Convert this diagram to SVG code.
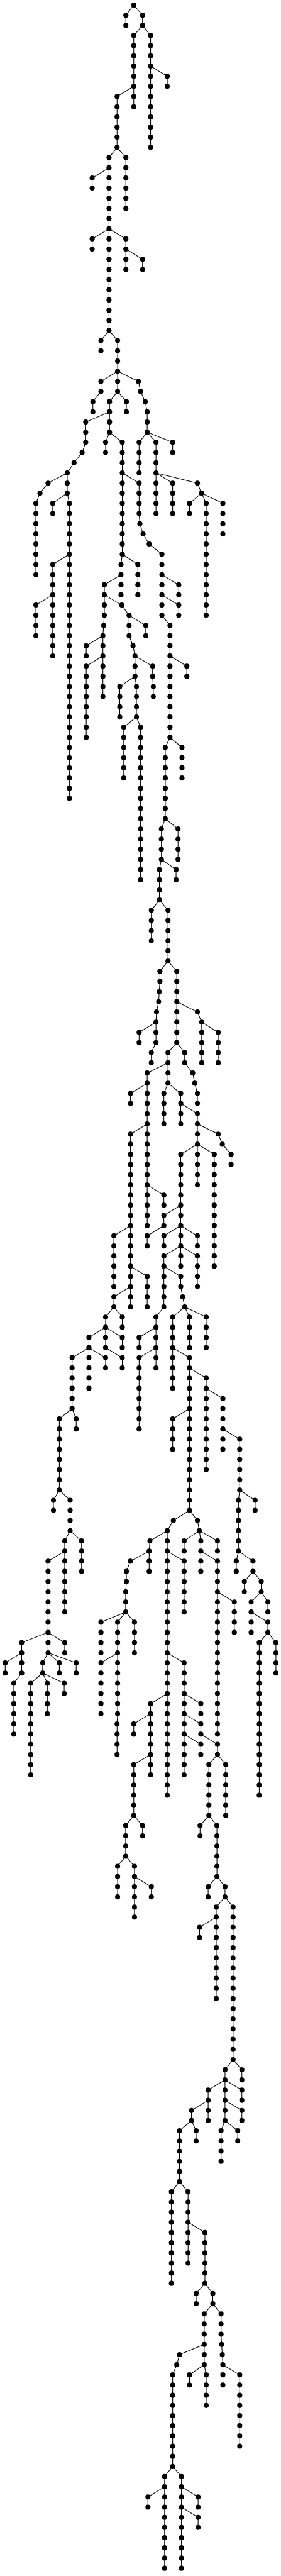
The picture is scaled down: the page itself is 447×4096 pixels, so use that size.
<svg xmlns="http://www.w3.org/2000/svg" width="447" height="4096" viewBox="0 0 447 4096">
<style>
#edges path{fill:none;stroke:#000;stroke-width:1.06px;vector-effect:non-scaling-stroke}
circle{r:15.3px;fill:#000;transform-box:fill-box;transform-origin:center;transform:scaleX(.9327)}
</style>
<rect width="447" height="4096" fill="#fff"/>
<g transform="scale(.2852,.266)">
<g id="edges">
<path d="M702 152V91L746 30L795 91V152"/>
<path d="M746 212L795 152L840 212V881"/>
<path d="M746 212V638"/>
<path d="M840 395L933 456V516"/>
<path d="M746 516L653 577V881"/>
<path d="M608 942L653 881L702 942V1246"/>
<path d="M608 942V1976"/>
<path d="M608 1003L514 1064V1124"/>
<path d="M514 1489V1428L608 1368L702 1428V1611"/>
<path d="M702 1489L795 1550V1611"/>
<path d="M563 2097V2036L608 1976L656 2036V2340"/>
<path d="M563 2280L656 2219L772 2280L784 2340L810 2401L821 2462V2584"/>
<path d="M563 2280V2340L518 2401V2462"/>
<path d="M611 2401L656 2340L705 2401V2462"/>
<path d="M611 2401V2584"/>
<path d="M611 2462L478 2523V2644L458 2705L413 2766L375 2827"/>
<path d="M589 2705V2644L611 2584L682 2644V3313"/>
<path d="M375 2827L268 2888L223 2948L200 3009V3435"/>
<path d="M375 2827V2948"/>
<path d="M294 3070V3009L375 2948L387 3009V4772"/>
<path d="M387 3313L294 3374V3921"/>
<path d="M294 3556L200 3617V3800"/>
<path d="M682 2827L776 2888V3070L780 3131L798 3192L832 3252L903 3313V3678L948 3739V4408"/>
<path d="M682 3313L675 3374V3556"/>
<path d="M682 3313L769 3374V3556"/>
<path d="M675 3435L582 3496V3678L578 3739L574 3800V4164"/>
<path d="M574 3800L481 3860V3921"/>
<path d="M574 3921L481 3982V4408"/>
<path d="M582 3556L679 3617L720 3678V3800L742 3860L753 3921V4043"/>
<path d="M720 3678L813 3739V3800"/>
<path d="M753 3921L851 3982V4043L855 4104V4164"/>
<path d="M753 4043L668 4104V4286"/>
<path d="M753 4043L761 4104V4286"/>
<path d="M761 4286L690 4347V4651"/>
<path d="M761 4286L784 4347V5259"/>
<path d="M903 3435L997 3496V3556"/>
<path d="M903 3556L997 3617V3678"/>
<path d="M948 3921L1042 3982V4043"/>
<path d="M948 4408L1015 4468V4651"/>
<path d="M948 4408L922 4468V4894"/>
<path d="M922 4894L993 4955V5137"/>
<path d="M922 4894L900 4955V5137"/>
<path d="M900 5137L982 5198V5259"/>
<path d="M900 5137L889 5198V5380"/>
<path d="M889 5380L844 5441V5624"/>
<path d="M889 5380L937 5441V5745"/>
<path d="M937 5745L892 5806V5867L888 5928L885 5988L873 6049L870 6110V6232L844 6292V6353"/>
<path d="M870 6110L776 6171V6232"/>
<path d="M937 5745L986 5806V6232"/>
<path d="M986 5988L1101 6049L1125 6110V6353"/>
<path d="M1125 6110L1217 6171V6353"/>
<path d="M986 6232L937 6292V6475"/>
<path d="M937 6353L821 6414V7326"/>
<path d="M821 6475L728 6536V6596"/>
<path d="M821 6718L728 6779V7812"/>
<path d="M821 7083L914 7144V7204"/>
<path d="M986 6232L1030 6292V6353L1075 6414L1086 6475L1101 6536V6596"/>
<path d="M937 6475L914 6536V6718"/>
<path d="M937 6475L1008 6536V6718"/>
<path d="M1008 6596L1101 6657V7083"/>
<path d="M1101 6718L1217 6779L1240 6840L1289 6900V6961"/>
<path d="M1101 6840L1195 6900V7569"/>
<path d="M1101 6840L1008 6900V7569"/>
<path d="M1008 7204L914 7265V7326L821 7387V7448"/>
<path d="M1008 7326L914 7387V7448"/>
<path d="M1008 7326L1101 7387V7448"/>
<path d="M1008 7448L914 7508V7812"/>
<path d="M1008 7448L1101 7508V7691"/>
<path d="M914 7569L1008 7630V7691L1019 7752L1030 7812"/>
<path d="M728 7326L635 7387V7691"/>
<path d="M728 7569L821 7630V7812"/>
<path d="M728 7691L635 7752V7812"/>
<path d="M682 7934V7873L635 7812L589 7873V8056L682 8116V8177"/>
<path d="M589 7934L496 7995V8299"/>
<path d="M589 7934L682 7995V8056"/>
<path d="M496 8056L402 8116V8420"/>
<path d="M496 8056L589 8116V8177"/>
<path d="M402 8420L331 8481V8907"/>
<path d="M402 8420L425 8481V8542"/>
<path d="M298 9028V8968L331 8907L391 8968V9150"/>
<path d="M391 9150L361 9211V9636"/>
<path d="M391 9150L455 9211V9393"/>
<path d="M361 9272L268 9332V9880"/>
<path d="M121 9880V9819L268 9758L361 9819V9880"/>
<path d="M268 9880L238 9940V10001"/>
<path d="M268 9880L331 9940V10001"/>
<path d="M268 9880L425 9940V10001"/>
<path d="M238 10001L171 10062V10609"/>
<path d="M238 10001L264 10062V10244"/>
<path d="M238 10001L358 10062V10123"/>
<path d="M121 9880L29 9940V10001"/>
<path d="M121 9880V10001L77 10062V10366"/>
<path d="M914 7812L870 7873V8177"/>
<path d="M870 7934L776 7995V8056"/>
<path d="M870 8056L776 8116V8542"/>
<path d="M1030 7812L963 7873V8299"/>
<path d="M1030 7812L1057 7873V8056"/>
<path d="M1030 7812L1150 7873V8056"/>
<path d="M963 8056L1057 8116V9028"/>
<path d="M1057 8177L1150 8238V8785"/>
<path d="M1150 8299L1243 8360V8664"/>
<path d="M1243 8542L1337 8603V8907"/>
<path d="M1057 8420L963 8481V8664"/>
<path d="M1337 8907L1330 8968V9272"/>
<path d="M1337 8907L1423 8968V9028"/>
<path d="M1330 9272L1318 9332V9393"/>
<path d="M1330 9272L1411 9332V9393"/>
<path d="M1411 9393L1363 9454V9515"/>
<path d="M1411 9393L1457 9454V9515"/>
<path d="M1457 9515L1401 9576V9758"/>
<path d="M1457 9515L1494 9576V9636"/>
<path d="M1401 9636L1494 9697V9758"/>
<path d="M1494 9758L1446 9819V10731"/>
<path d="M1494 9758L1539 9819V10001"/>
<path d="M1057 9028L967 9089L933 9150V10731"/>
<path d="M1057 9028L1101 9089L1112 9150"/>
<path d="M933 9150L836 9211L832 9272V9393"/>
<path d="M832 9272L727 9332L705 9393V9454L701 9515V9636"/>
<path d="M701 9636L563 9697V9880"/>
<path d="M701 9636L656 9697V10244L653 10305V10488"/>
<path d="M701 9636L750 9697V9880"/>
<path d="M656 9880L563 9940V10244"/>
<path d="M933 9272L1027 9332V9636"/>
<path d="M933 9880L1027 9940V10609"/>
<path d="M1027 10123L1120 10184V10244"/>
<path d="M1027 10244L1120 10305V10366L1213 10427V10488"/>
<path d="M1027 10366L1120 10427V10488"/>
<path d="M1112 9150L1027 9211V9272"/>
<path d="M1112 9150L1120 9211V9393"/>
<path d="M1112 9150L1213 9211V9272"/>
<path d="M1120 9272L1213 9332V10366"/>
<path d="M1213 9515L1307 9576V9758"/>
<path d="M933 10123L840 10184V10609"/>
<path d="M840 10244L746 10305V10366"/>
<path d="M840 10488L746 10548V10852"/>
<path d="M746 10852L701 10913V11096"/>
<path d="M746 10852L795 10913V10974"/>
<path d="M701 11096L656 11156V11339"/>
<path d="M701 11096L750 11156V11460"/>
<path d="M750 11217L844 11278V11339"/>
<path d="M1213 10488L1165 10548V10852"/>
<path d="M1213 10488L1259 10548V10852"/>
<path d="M1165 10852L1116 10913V10974"/>
<path d="M1165 10852L1210 10913V11217"/>
<path d="M1210 11217L1161 11278V11339"/>
<path d="M1210 11217L1255 11278V11339"/>
<path d="M1255 11339L1206 11400V11947"/>
<path d="M1255 11339L1300 11400V12312"/>
<path d="M1206 11460L1113 11521V11582"/>
<path d="M1300 12312L1255 12372V12676"/>
<path d="M1300 12312L1349 12372V12433"/>
<path d="M1255 12433L1161 12494V12676"/>
<path d="M1255 12433L1349 12494V12555"/>
<path d="M1255 12555L1349 12616V12676"/>
<path d="M1255 12676L1233 12737V12920"/>
<path d="M1255 12676L1326 12737V12798"/>
<path d="M1161 12555L1068 12616V12676"/>
<path d="M1068 12676L1001 12737V13041"/>
<path d="M1068 12676L1094 12737V12798"/>
<path d="M1001 13041L956 13102V13649"/>
<path d="M1001 13041L1049 13102V13528"/>
<path d="M1049 13284L1143 13345V13649"/>
<path d="M1143 13649L1094 13710V13771"/>
<path d="M1143 13649L1187 13710V13771"/>
<path d="M1187 13771L1139 13832V14136"/>
<path d="M1187 13771L1233 13832V13953L1236 14014L1240 14075L1243 14136"/>
<path d="M1139 14014L1001 14075L986 14136L963 14196V14744"/>
<path d="M1139 14136L1057 14196V14257"/>
<path d="M1139 14136L1150 14196V14379"/>
<path d="M1243 14136V14257"/>
<path d="M1243 14136L1337 14196V14622"/>
<path d="M963 14744L918 14804V15352"/>
<path d="M963 14744L1012 14804V15352"/>
<path d="M918 14865L825 14926V14987"/>
<path d="M1012 14865L1105 14926V14987"/>
<path d="M1012 14987L1105 15048V15108"/>
<path d="M821 2584L776 2644V2827"/>
<path d="M821 2584L963 2644V2705"/>
<path d="M821 2584L870 2644V3070"/>
<path d="M870 2827L963 2888V3070"/>
<path d="M870 2827L1101 2888L1124 2948"/>
<path d="M1124 2948L1057 3009V3070"/>
<path d="M1124 2948L1150 3009V3678"/>
<path d="M1124 2948L1243 3009V3192"/>
</g>
<g id="nodes">
<g id="n746-30"><circle cx="746" cy="30"/></g>
<g id="n702-91"><circle cx="702" cy="91"/></g><g id="n702-152"><circle cx="702" cy="152"/></g>
<g id="n795-91"><circle cx="795" cy="91"/></g><g id="n795-152"><circle cx="795" cy="152"/></g>
<g id="n746-212"><circle cx="746" cy="212"/></g><g id="n746-273"><circle cx="746" cy="273"/></g><g id="n746-334"><circle cx="746" cy="334"/></g><g id="n746-395"><circle cx="746" cy="395"/></g><g id="n746-456"><circle cx="746" cy="456"/></g><g id="n746-516"><circle cx="746" cy="516"/></g><g id="n746-577"><circle cx="746" cy="577"/></g><g id="n746-638"><circle cx="746" cy="638"/></g>
<g id="n840-212"><circle cx="840" cy="212"/></g><g id="n840-273"><circle cx="840" cy="273"/></g><g id="n840-334"><circle cx="840" cy="334"/></g><g id="n840-395"><circle cx="840" cy="395"/></g><g id="n840-456"><circle cx="840" cy="456"/></g><g id="n840-516"><circle cx="840" cy="516"/></g><g id="n840-577"><circle cx="840" cy="577"/></g><g id="n840-638"><circle cx="840" cy="638"/></g><g id="n840-699"><circle cx="840" cy="699"/></g><g id="n840-760"><circle cx="840" cy="760"/></g><g id="n840-820"><circle cx="840" cy="820"/></g><g id="n840-881"><circle cx="840" cy="881"/></g>
<g id="n933-456"><circle cx="933" cy="456"/></g><g id="n933-516"><circle cx="933" cy="516"/></g>
<g id="n653-577"><circle cx="653" cy="577"/></g><g id="n653-638"><circle cx="653" cy="638"/></g><g id="n653-699"><circle cx="653" cy="699"/></g><g id="n653-760"><circle cx="653" cy="760"/></g><g id="n653-820"><circle cx="653" cy="820"/></g><g id="n653-881"><circle cx="653" cy="881"/></g>
<g id="n608-942"><circle cx="608" cy="942"/></g><g id="n608-1003"><circle cx="608" cy="1003"/></g><g id="n608-1064"><circle cx="608" cy="1064"/></g><g id="n608-1124"><circle cx="608" cy="1124"/></g><g id="n608-1185"><circle cx="608" cy="1185"/></g><g id="n608-1246"><circle cx="608" cy="1246"/></g><g id="n608-1307"><circle cx="608" cy="1307"/></g><g id="n608-1368"><circle cx="608" cy="1368"/></g><g id="n608-1428"><circle cx="608" cy="1428"/></g><g id="n608-1489"><circle cx="608" cy="1489"/></g><g id="n608-1550"><circle cx="608" cy="1550"/></g><g id="n608-1611"><circle cx="608" cy="1611"/></g><g id="n608-1672"><circle cx="608" cy="1672"/></g><g id="n608-1732"><circle cx="608" cy="1732"/></g><g id="n608-1793"><circle cx="608" cy="1793"/></g><g id="n608-1854"><circle cx="608" cy="1854"/></g><g id="n608-1915"><circle cx="608" cy="1915"/></g><g id="n608-1976"><circle cx="608" cy="1976"/></g>
<g id="n702-942"><circle cx="702" cy="942"/></g><g id="n702-1003"><circle cx="702" cy="1003"/></g><g id="n702-1064"><circle cx="702" cy="1064"/></g><g id="n702-1124"><circle cx="702" cy="1124"/></g><g id="n702-1185"><circle cx="702" cy="1185"/></g><g id="n702-1246"><circle cx="702" cy="1246"/></g>
<g id="n514-1064"><circle cx="514" cy="1064"/></g><g id="n514-1124"><circle cx="514" cy="1124"/></g>
<g id="n514-1428"><circle cx="514" cy="1428"/></g><g id="n514-1489"><circle cx="514" cy="1489"/></g>
<g id="n702-1428"><circle cx="702" cy="1428"/></g><g id="n702-1489"><circle cx="702" cy="1489"/></g><g id="n702-1550"><circle cx="702" cy="1550"/></g><g id="n702-1611"><circle cx="702" cy="1611"/></g>
<g id="n795-1550"><circle cx="795" cy="1550"/></g><g id="n795-1611"><circle cx="795" cy="1611"/></g>
<g id="n563-2036"><circle cx="563" cy="2036"/></g><g id="n563-2097"><circle cx="563" cy="2097"/></g>
<g id="n656-2036"><circle cx="656" cy="2036"/></g><g id="n656-2097"><circle cx="656" cy="2097"/></g><g id="n656-2158"><circle cx="656" cy="2158"/></g><g id="n656-2219"><circle cx="656" cy="2219"/></g>
<g id="n563-2280"><circle cx="563" cy="2280"/></g><g id="n563-2340"><circle cx="563" cy="2340"/></g>
<g id="n518-2401"><circle cx="518" cy="2401"/></g><g id="n518-2462"><circle cx="518" cy="2462"/></g>
<g id="n656-2280"><circle cx="656" cy="2280"/></g><g id="n656-2340"><circle cx="656" cy="2340"/></g>
<g id="n611-2401"><circle cx="611" cy="2401"/></g><g id="n611-2462"><circle cx="611" cy="2462"/></g><g id="n611-2523"><circle cx="611" cy="2523"/></g><g id="n611-2584"><circle cx="611" cy="2584"/></g>
<g id="n705-2401"><circle cx="705" cy="2401"/></g><g id="n705-2462"><circle cx="705" cy="2462"/></g>
<g id="n772-2280"><circle cx="772" cy="2280"/></g><g id="n784-2340"><circle cx="784" cy="2340"/></g><g id="n810-2401"><circle cx="810" cy="2401"/></g><g id="n821-2462"><circle cx="821" cy="2462"/></g><g id="n821-2523"><circle cx="821" cy="2523"/></g><g id="n821-2584"><circle cx="821" cy="2584"/></g>
<g id="n478-2523"><circle cx="478" cy="2523"/></g><g id="n478-2584"><circle cx="478" cy="2584"/></g><g id="n478-2644"><circle cx="478" cy="2644"/></g><g id="n458-2705"><circle cx="458" cy="2705"/></g><g id="n413-2766"><circle cx="413" cy="2766"/></g><g id="n375-2827"><circle cx="375" cy="2827"/></g>
<g id="n589-2644"><circle cx="589" cy="2644"/></g><g id="n589-2705"><circle cx="589" cy="2705"/></g>
<g id="n682-2644"><circle cx="682" cy="2644"/></g><g id="n682-2705"><circle cx="682" cy="2705"/></g><g id="n682-2766"><circle cx="682" cy="2766"/></g><g id="n682-2827"><circle cx="682" cy="2827"/></g><g id="n682-2888"><circle cx="682" cy="2888"/></g><g id="n682-2948"><circle cx="682" cy="2948"/></g><g id="n682-3009"><circle cx="682" cy="3009"/></g><g id="n682-3070"><circle cx="682" cy="3070"/></g><g id="n682-3131"><circle cx="682" cy="3131"/></g><g id="n682-3192"><circle cx="682" cy="3192"/></g><g id="n682-3252"><circle cx="682" cy="3252"/></g><g id="n682-3313"><circle cx="682" cy="3313"/></g>
<g id="n268-2888"><circle cx="268" cy="2888"/></g><g id="n223-2948"><circle cx="223" cy="2948"/></g><g id="n200-3009"><circle cx="200" cy="3009"/></g><g id="n200-3070"><circle cx="200" cy="3070"/></g><g id="n200-3131"><circle cx="200" cy="3131"/></g><g id="n200-3192"><circle cx="200" cy="3192"/></g><g id="n200-3252"><circle cx="200" cy="3252"/></g><g id="n200-3313"><circle cx="200" cy="3313"/></g><g id="n200-3374"><circle cx="200" cy="3374"/></g><g id="n200-3435"><circle cx="200" cy="3435"/></g>
<g id="n375-2888"><circle cx="375" cy="2888"/></g><g id="n375-2948"><circle cx="375" cy="2948"/></g>
<g id="n294-3009"><circle cx="294" cy="3009"/></g><g id="n294-3070"><circle cx="294" cy="3070"/></g>
<g id="n387-3009"><circle cx="387" cy="3009"/></g><g id="n387-3070"><circle cx="387" cy="3070"/></g><g id="n387-3131"><circle cx="387" cy="3131"/></g><g id="n387-3192"><circle cx="387" cy="3192"/></g><g id="n387-3252"><circle cx="387" cy="3252"/></g><g id="n387-3313"><circle cx="387" cy="3313"/></g><g id="n387-3374"><circle cx="387" cy="3374"/></g><g id="n387-3435"><circle cx="387" cy="3435"/></g><g id="n387-3496"><circle cx="387" cy="3496"/></g><g id="n387-3556"><circle cx="387" cy="3556"/></g><g id="n387-3617"><circle cx="387" cy="3617"/></g><g id="n387-3678"><circle cx="387" cy="3678"/></g><g id="n387-3739"><circle cx="387" cy="3739"/></g><g id="n387-3800"><circle cx="387" cy="3800"/></g><g id="n387-3860"><circle cx="387" cy="3860"/></g><g id="n387-3921"><circle cx="387" cy="3921"/></g><g id="n387-3982"><circle cx="387" cy="3982"/></g><g id="n387-4043"><circle cx="387" cy="4043"/></g><g id="n387-4104"><circle cx="387" cy="4104"/></g><g id="n387-4164"><circle cx="387" cy="4164"/></g><g id="n387-4225"><circle cx="387" cy="4225"/></g><g id="n387-4286"><circle cx="387" cy="4286"/></g><g id="n387-4347"><circle cx="387" cy="4347"/></g><g id="n387-4408"><circle cx="387" cy="4408"/></g><g id="n387-4468"><circle cx="387" cy="4468"/></g><g id="n387-4529"><circle cx="387" cy="4529"/></g><g id="n387-4590"><circle cx="387" cy="4590"/></g><g id="n387-4651"><circle cx="387" cy="4651"/></g><g id="n387-4712"><circle cx="387" cy="4712"/></g><g id="n387-4772"><circle cx="387" cy="4772"/></g>
<g id="n294-3374"><circle cx="294" cy="3374"/></g><g id="n294-3435"><circle cx="294" cy="3435"/></g><g id="n294-3496"><circle cx="294" cy="3496"/></g><g id="n294-3556"><circle cx="294" cy="3556"/></g><g id="n294-3617"><circle cx="294" cy="3617"/></g><g id="n294-3678"><circle cx="294" cy="3678"/></g><g id="n294-3739"><circle cx="294" cy="3739"/></g><g id="n294-3800"><circle cx="294" cy="3800"/></g><g id="n294-3860"><circle cx="294" cy="3860"/></g><g id="n294-3921"><circle cx="294" cy="3921"/></g>
<g id="n200-3617"><circle cx="200" cy="3617"/></g><g id="n200-3678"><circle cx="200" cy="3678"/></g><g id="n200-3739"><circle cx="200" cy="3739"/></g><g id="n200-3800"><circle cx="200" cy="3800"/></g>
<g id="n776-2888"><circle cx="776" cy="2888"/></g><g id="n776-2948"><circle cx="776" cy="2948"/></g><g id="n776-3009"><circle cx="776" cy="3009"/></g><g id="n776-3070"><circle cx="776" cy="3070"/></g><g id="n780-3131"><circle cx="780" cy="3131"/></g><g id="n798-3192"><circle cx="798" cy="3192"/></g><g id="n832-3252"><circle cx="832" cy="3252"/></g><g id="n903-3313"><circle cx="903" cy="3313"/></g><g id="n903-3374"><circle cx="903" cy="3374"/></g><g id="n903-3435"><circle cx="903" cy="3435"/></g><g id="n903-3496"><circle cx="903" cy="3496"/></g><g id="n903-3556"><circle cx="903" cy="3556"/></g><g id="n903-3617"><circle cx="903" cy="3617"/></g><g id="n903-3678"><circle cx="903" cy="3678"/></g>
<g id="n948-3739"><circle cx="948" cy="3739"/></g><g id="n948-3800"><circle cx="948" cy="3800"/></g><g id="n948-3860"><circle cx="948" cy="3860"/></g><g id="n948-3921"><circle cx="948" cy="3921"/></g><g id="n948-3982"><circle cx="948" cy="3982"/></g><g id="n948-4043"><circle cx="948" cy="4043"/></g><g id="n948-4104"><circle cx="948" cy="4104"/></g><g id="n948-4164"><circle cx="948" cy="4164"/></g><g id="n948-4225"><circle cx="948" cy="4225"/></g><g id="n948-4286"><circle cx="948" cy="4286"/></g><g id="n948-4347"><circle cx="948" cy="4347"/></g><g id="n948-4408"><circle cx="948" cy="4408"/></g>
<g id="n675-3374"><circle cx="675" cy="3374"/></g><g id="n675-3435"><circle cx="675" cy="3435"/></g><g id="n675-3496"><circle cx="675" cy="3496"/></g><g id="n675-3556"><circle cx="675" cy="3556"/></g>
<g id="n769-3374"><circle cx="769" cy="3374"/></g><g id="n769-3435"><circle cx="769" cy="3435"/></g><g id="n769-3496"><circle cx="769" cy="3496"/></g><g id="n769-3556"><circle cx="769" cy="3556"/></g>
<g id="n582-3496"><circle cx="582" cy="3496"/></g><g id="n582-3556"><circle cx="582" cy="3556"/></g><g id="n582-3617"><circle cx="582" cy="3617"/></g><g id="n582-3678"><circle cx="582" cy="3678"/></g><g id="n578-3739"><circle cx="578" cy="3739"/></g><g id="n574-3800"><circle cx="574" cy="3800"/></g><g id="n574-3860"><circle cx="574" cy="3860"/></g><g id="n574-3921"><circle cx="574" cy="3921"/></g><g id="n574-3982"><circle cx="574" cy="3982"/></g><g id="n574-4043"><circle cx="574" cy="4043"/></g><g id="n574-4104"><circle cx="574" cy="4104"/></g><g id="n574-4164"><circle cx="574" cy="4164"/></g>
<g id="n481-3860"><circle cx="481" cy="3860"/></g><g id="n481-3921"><circle cx="481" cy="3921"/></g>
<g id="n481-3982"><circle cx="481" cy="3982"/></g><g id="n481-4043"><circle cx="481" cy="4043"/></g><g id="n481-4104"><circle cx="481" cy="4104"/></g><g id="n481-4164"><circle cx="481" cy="4164"/></g><g id="n481-4225"><circle cx="481" cy="4225"/></g><g id="n481-4286"><circle cx="481" cy="4286"/></g><g id="n481-4347"><circle cx="481" cy="4347"/></g><g id="n481-4408"><circle cx="481" cy="4408"/></g>
<g id="n679-3617"><circle cx="679" cy="3617"/></g><g id="n720-3678"><circle cx="720" cy="3678"/></g><g id="n720-3739"><circle cx="720" cy="3739"/></g><g id="n720-3800"><circle cx="720" cy="3800"/></g><g id="n742-3860"><circle cx="742" cy="3860"/></g><g id="n753-3921"><circle cx="753" cy="3921"/></g><g id="n753-3982"><circle cx="753" cy="3982"/></g><g id="n753-4043"><circle cx="753" cy="4043"/></g>
<g id="n813-3739"><circle cx="813" cy="3739"/></g><g id="n813-3800"><circle cx="813" cy="3800"/></g>
<g id="n851-3982"><circle cx="851" cy="3982"/></g><g id="n851-4043"><circle cx="851" cy="4043"/></g><g id="n855-4104"><circle cx="855" cy="4104"/></g><g id="n855-4164"><circle cx="855" cy="4164"/></g>
<g id="n668-4104"><circle cx="668" cy="4104"/></g><g id="n668-4164"><circle cx="668" cy="4164"/></g><g id="n668-4225"><circle cx="668" cy="4225"/></g><g id="n668-4286"><circle cx="668" cy="4286"/></g>
<g id="n761-4104"><circle cx="761" cy="4104"/></g><g id="n761-4164"><circle cx="761" cy="4164"/></g><g id="n761-4225"><circle cx="761" cy="4225"/></g><g id="n761-4286"><circle cx="761" cy="4286"/></g>
<g id="n690-4347"><circle cx="690" cy="4347"/></g><g id="n690-4408"><circle cx="690" cy="4408"/></g><g id="n690-4468"><circle cx="690" cy="4468"/></g><g id="n690-4529"><circle cx="690" cy="4529"/></g><g id="n690-4590"><circle cx="690" cy="4590"/></g><g id="n690-4651"><circle cx="690" cy="4651"/></g>
<g id="n784-4347"><circle cx="784" cy="4347"/></g><g id="n784-4408"><circle cx="784" cy="4408"/></g><g id="n784-4468"><circle cx="784" cy="4468"/></g><g id="n784-4529"><circle cx="784" cy="4529"/></g><g id="n784-4590"><circle cx="784" cy="4590"/></g><g id="n784-4651"><circle cx="784" cy="4651"/></g><g id="n784-4712"><circle cx="784" cy="4712"/></g><g id="n784-4772"><circle cx="784" cy="4772"/></g><g id="n784-4833"><circle cx="784" cy="4833"/></g><g id="n784-4894"><circle cx="784" cy="4894"/></g><g id="n784-4955"><circle cx="784" cy="4955"/></g><g id="n784-5016"><circle cx="784" cy="5016"/></g><g id="n784-5076"><circle cx="784" cy="5076"/></g><g id="n784-5137"><circle cx="784" cy="5137"/></g><g id="n784-5198"><circle cx="784" cy="5198"/></g><g id="n784-5259"><circle cx="784" cy="5259"/></g>
<g id="n997-3496"><circle cx="997" cy="3496"/></g><g id="n997-3556"><circle cx="997" cy="3556"/></g><g id="n997-3617"><circle cx="997" cy="3617"/></g><g id="n997-3678"><circle cx="997" cy="3678"/></g>
<g id="n1042-3982"><circle cx="1042" cy="3982"/></g><g id="n1042-4043"><circle cx="1042" cy="4043"/></g>
<g id="n1015-4468"><circle cx="1015" cy="4468"/></g><g id="n1015-4529"><circle cx="1015" cy="4529"/></g><g id="n1015-4590"><circle cx="1015" cy="4590"/></g><g id="n1015-4651"><circle cx="1015" cy="4651"/></g>
<g id="n922-4468"><circle cx="922" cy="4468"/></g><g id="n922-4529"><circle cx="922" cy="4529"/></g><g id="n922-4590"><circle cx="922" cy="4590"/></g><g id="n922-4651"><circle cx="922" cy="4651"/></g><g id="n922-4712"><circle cx="922" cy="4712"/></g><g id="n922-4772"><circle cx="922" cy="4772"/></g><g id="n922-4833"><circle cx="922" cy="4833"/></g><g id="n922-4894"><circle cx="922" cy="4894"/></g>
<g id="n993-4955"><circle cx="993" cy="4955"/></g><g id="n993-5016"><circle cx="993" cy="5016"/></g><g id="n993-5076"><circle cx="993" cy="5076"/></g><g id="n993-5137"><circle cx="993" cy="5137"/></g>
<g id="n900-4955"><circle cx="900" cy="4955"/></g><g id="n900-5016"><circle cx="900" cy="5016"/></g><g id="n900-5076"><circle cx="900" cy="5076"/></g><g id="n900-5137"><circle cx="900" cy="5137"/></g>
<g id="n982-5198"><circle cx="982" cy="5198"/></g><g id="n982-5259"><circle cx="982" cy="5259"/></g>
<g id="n889-5198"><circle cx="889" cy="5198"/></g><g id="n889-5259"><circle cx="889" cy="5259"/></g><g id="n889-5320"><circle cx="889" cy="5320"/></g><g id="n889-5380"><circle cx="889" cy="5380"/></g>
<g id="n844-5441"><circle cx="844" cy="5441"/></g><g id="n844-5502"><circle cx="844" cy="5502"/></g><g id="n844-5563"><circle cx="844" cy="5563"/></g><g id="n844-5624"><circle cx="844" cy="5624"/></g>
<g id="n937-5441"><circle cx="937" cy="5441"/></g><g id="n937-5502"><circle cx="937" cy="5502"/></g><g id="n937-5563"><circle cx="937" cy="5563"/></g><g id="n937-5624"><circle cx="937" cy="5624"/></g><g id="n937-5684"><circle cx="937" cy="5684"/></g><g id="n937-5745"><circle cx="937" cy="5745"/></g>
<g id="n892-5806"><circle cx="892" cy="5806"/></g><g id="n892-5867"><circle cx="892" cy="5867"/></g><g id="n888-5928"><circle cx="888" cy="5928"/></g><g id="n885-5988"><circle cx="885" cy="5988"/></g><g id="n873-6049"><circle cx="873" cy="6049"/></g><g id="n870-6110"><circle cx="870" cy="6110"/></g><g id="n870-6171"><circle cx="870" cy="6171"/></g><g id="n870-6232"><circle cx="870" cy="6232"/></g><g id="n844-6292"><circle cx="844" cy="6292"/></g><g id="n844-6353"><circle cx="844" cy="6353"/></g>
<g id="n776-6171"><circle cx="776" cy="6171"/></g><g id="n776-6232"><circle cx="776" cy="6232"/></g>
<g id="n986-5806"><circle cx="986" cy="5806"/></g><g id="n986-5867"><circle cx="986" cy="5867"/></g><g id="n986-5928"><circle cx="986" cy="5928"/></g><g id="n986-5988"><circle cx="986" cy="5988"/></g><g id="n986-6049"><circle cx="986" cy="6049"/></g><g id="n986-6110"><circle cx="986" cy="6110"/></g><g id="n986-6171"><circle cx="986" cy="6171"/></g><g id="n986-6232"><circle cx="986" cy="6232"/></g>
<g id="n1101-6049"><circle cx="1101" cy="6049"/></g><g id="n1125-6110"><circle cx="1125" cy="6110"/></g><g id="n1125-6171"><circle cx="1125" cy="6171"/></g><g id="n1125-6232"><circle cx="1125" cy="6232"/></g><g id="n1125-6292"><circle cx="1125" cy="6292"/></g><g id="n1125-6353"><circle cx="1125" cy="6353"/></g>
<g id="n1217-6171"><circle cx="1217" cy="6171"/></g><g id="n1217-6232"><circle cx="1217" cy="6232"/></g><g id="n1217-6292"><circle cx="1217" cy="6292"/></g><g id="n1217-6353"><circle cx="1217" cy="6353"/></g>
<g id="n937-6292"><circle cx="937" cy="6292"/></g><g id="n937-6353"><circle cx="937" cy="6353"/></g><g id="n937-6414"><circle cx="937" cy="6414"/></g><g id="n937-6475"><circle cx="937" cy="6475"/></g>
<g id="n821-6414"><circle cx="821" cy="6414"/></g><g id="n821-6475"><circle cx="821" cy="6475"/></g><g id="n821-6536"><circle cx="821" cy="6536"/></g><g id="n821-6596"><circle cx="821" cy="6596"/></g><g id="n821-6657"><circle cx="821" cy="6657"/></g><g id="n821-6718"><circle cx="821" cy="6718"/></g><g id="n821-6779"><circle cx="821" cy="6779"/></g><g id="n821-6840"><circle cx="821" cy="6840"/></g><g id="n821-6900"><circle cx="821" cy="6900"/></g><g id="n821-6961"><circle cx="821" cy="6961"/></g><g id="n821-7022"><circle cx="821" cy="7022"/></g><g id="n821-7083"><circle cx="821" cy="7083"/></g><g id="n821-7144"><circle cx="821" cy="7144"/></g><g id="n821-7204"><circle cx="821" cy="7204"/></g><g id="n821-7265"><circle cx="821" cy="7265"/></g><g id="n821-7326"><circle cx="821" cy="7326"/></g>
<g id="n728-6536"><circle cx="728" cy="6536"/></g><g id="n728-6596"><circle cx="728" cy="6596"/></g>
<g id="n728-6779"><circle cx="728" cy="6779"/></g><g id="n728-6840"><circle cx="728" cy="6840"/></g><g id="n728-6900"><circle cx="728" cy="6900"/></g><g id="n728-6961"><circle cx="728" cy="6961"/></g><g id="n728-7022"><circle cx="728" cy="7022"/></g><g id="n728-7083"><circle cx="728" cy="7083"/></g><g id="n728-7144"><circle cx="728" cy="7144"/></g><g id="n728-7204"><circle cx="728" cy="7204"/></g><g id="n728-7265"><circle cx="728" cy="7265"/></g><g id="n728-7326"><circle cx="728" cy="7326"/></g><g id="n728-7387"><circle cx="728" cy="7387"/></g><g id="n728-7448"><circle cx="728" cy="7448"/></g><g id="n728-7508"><circle cx="728" cy="7508"/></g><g id="n728-7569"><circle cx="728" cy="7569"/></g><g id="n728-7630"><circle cx="728" cy="7630"/></g><g id="n728-7691"><circle cx="728" cy="7691"/></g><g id="n728-7752"><circle cx="728" cy="7752"/></g><g id="n728-7812"><circle cx="728" cy="7812"/></g>
<g id="n914-7144"><circle cx="914" cy="7144"/></g><g id="n914-7204"><circle cx="914" cy="7204"/></g>
<g id="n1030-6292"><circle cx="1030" cy="6292"/></g><g id="n1030-6353"><circle cx="1030" cy="6353"/></g><g id="n1075-6414"><circle cx="1075" cy="6414"/></g><g id="n1086-6475"><circle cx="1086" cy="6475"/></g><g id="n1101-6536"><circle cx="1101" cy="6536"/></g><g id="n1101-6596"><circle cx="1101" cy="6596"/></g>
<g id="n914-6536"><circle cx="914" cy="6536"/></g><g id="n914-6596"><circle cx="914" cy="6596"/></g><g id="n914-6657"><circle cx="914" cy="6657"/></g><g id="n914-6718"><circle cx="914" cy="6718"/></g>
<g id="n1008-6536"><circle cx="1008" cy="6536"/></g><g id="n1008-6596"><circle cx="1008" cy="6596"/></g><g id="n1008-6657"><circle cx="1008" cy="6657"/></g><g id="n1008-6718"><circle cx="1008" cy="6718"/></g>
<g id="n1101-6657"><circle cx="1101" cy="6657"/></g><g id="n1101-6718"><circle cx="1101" cy="6718"/></g><g id="n1101-6779"><circle cx="1101" cy="6779"/></g><g id="n1101-6840"><circle cx="1101" cy="6840"/></g><g id="n1101-6900"><circle cx="1101" cy="6900"/></g><g id="n1101-6961"><circle cx="1101" cy="6961"/></g><g id="n1101-7022"><circle cx="1101" cy="7022"/></g><g id="n1101-7083"><circle cx="1101" cy="7083"/></g>
<g id="n1217-6779"><circle cx="1217" cy="6779"/></g><g id="n1240-6840"><circle cx="1240" cy="6840"/></g><g id="n1289-6900"><circle cx="1289" cy="6900"/></g><g id="n1289-6961"><circle cx="1289" cy="6961"/></g>
<g id="n1195-6900"><circle cx="1195" cy="6900"/></g><g id="n1195-6961"><circle cx="1195" cy="6961"/></g><g id="n1195-7022"><circle cx="1195" cy="7022"/></g><g id="n1195-7083"><circle cx="1195" cy="7083"/></g><g id="n1195-7144"><circle cx="1195" cy="7144"/></g><g id="n1195-7204"><circle cx="1195" cy="7204"/></g><g id="n1195-7265"><circle cx="1195" cy="7265"/></g><g id="n1195-7326"><circle cx="1195" cy="7326"/></g><g id="n1195-7387"><circle cx="1195" cy="7387"/></g><g id="n1195-7448"><circle cx="1195" cy="7448"/></g><g id="n1195-7508"><circle cx="1195" cy="7508"/></g><g id="n1195-7569"><circle cx="1195" cy="7569"/></g>
<g id="n1008-6900"><circle cx="1008" cy="6900"/></g><g id="n1008-6961"><circle cx="1008" cy="6961"/></g><g id="n1008-7022"><circle cx="1008" cy="7022"/></g><g id="n1008-7083"><circle cx="1008" cy="7083"/></g><g id="n1008-7144"><circle cx="1008" cy="7144"/></g><g id="n1008-7204"><circle cx="1008" cy="7204"/></g><g id="n1008-7265"><circle cx="1008" cy="7265"/></g><g id="n1008-7326"><circle cx="1008" cy="7326"/></g><g id="n1008-7387"><circle cx="1008" cy="7387"/></g><g id="n1008-7448"><circle cx="1008" cy="7448"/></g><g id="n1008-7508"><circle cx="1008" cy="7508"/></g><g id="n1008-7569"><circle cx="1008" cy="7569"/></g>
<g id="n914-7265"><circle cx="914" cy="7265"/></g><g id="n914-7326"><circle cx="914" cy="7326"/></g><g id="n821-7387"><circle cx="821" cy="7387"/></g><g id="n821-7448"><circle cx="821" cy="7448"/></g>
<g id="n914-7387"><circle cx="914" cy="7387"/></g><g id="n914-7448"><circle cx="914" cy="7448"/></g>
<g id="n1101-7387"><circle cx="1101" cy="7387"/></g><g id="n1101-7448"><circle cx="1101" cy="7448"/></g>
<g id="n914-7508"><circle cx="914" cy="7508"/></g><g id="n914-7569"><circle cx="914" cy="7569"/></g><g id="n914-7630"><circle cx="914" cy="7630"/></g><g id="n914-7691"><circle cx="914" cy="7691"/></g><g id="n914-7752"><circle cx="914" cy="7752"/></g><g id="n914-7812"><circle cx="914" cy="7812"/></g>
<g id="n1101-7508"><circle cx="1101" cy="7508"/></g><g id="n1101-7569"><circle cx="1101" cy="7569"/></g><g id="n1101-7630"><circle cx="1101" cy="7630"/></g><g id="n1101-7691"><circle cx="1101" cy="7691"/></g>
<g id="n1008-7630"><circle cx="1008" cy="7630"/></g><g id="n1008-7691"><circle cx="1008" cy="7691"/></g><g id="n1019-7752"><circle cx="1019" cy="7752"/></g><g id="n1030-7812"><circle cx="1030" cy="7812"/></g>
<g id="n635-7387"><circle cx="635" cy="7387"/></g><g id="n635-7448"><circle cx="635" cy="7448"/></g><g id="n635-7508"><circle cx="635" cy="7508"/></g><g id="n635-7569"><circle cx="635" cy="7569"/></g><g id="n635-7630"><circle cx="635" cy="7630"/></g><g id="n635-7691"><circle cx="635" cy="7691"/></g>
<g id="n821-7630"><circle cx="821" cy="7630"/></g><g id="n821-7691"><circle cx="821" cy="7691"/></g><g id="n821-7752"><circle cx="821" cy="7752"/></g><g id="n821-7812"><circle cx="821" cy="7812"/></g>
<g id="n635-7752"><circle cx="635" cy="7752"/></g><g id="n635-7812"><circle cx="635" cy="7812"/></g>
<g id="n589-7873"><circle cx="589" cy="7873"/></g><g id="n589-7934"><circle cx="589" cy="7934"/></g><g id="n589-7995"><circle cx="589" cy="7995"/></g><g id="n589-8056"><circle cx="589" cy="8056"/></g>
<g id="n682-7873"><circle cx="682" cy="7873"/></g><g id="n682-7934"><circle cx="682" cy="7934"/></g>
<g id="n682-8116"><circle cx="682" cy="8116"/></g><g id="n682-8177"><circle cx="682" cy="8177"/></g>
<g id="n496-7995"><circle cx="496" cy="7995"/></g><g id="n496-8056"><circle cx="496" cy="8056"/></g><g id="n496-8116"><circle cx="496" cy="8116"/></g><g id="n496-8177"><circle cx="496" cy="8177"/></g><g id="n496-8238"><circle cx="496" cy="8238"/></g><g id="n496-8299"><circle cx="496" cy="8299"/></g>
<g id="n682-7995"><circle cx="682" cy="7995"/></g><g id="n682-8056"><circle cx="682" cy="8056"/></g>
<g id="n402-8116"><circle cx="402" cy="8116"/></g><g id="n402-8177"><circle cx="402" cy="8177"/></g><g id="n402-8238"><circle cx="402" cy="8238"/></g><g id="n402-8299"><circle cx="402" cy="8299"/></g><g id="n402-8360"><circle cx="402" cy="8360"/></g><g id="n402-8420"><circle cx="402" cy="8420"/></g>
<g id="n589-8116"><circle cx="589" cy="8116"/></g><g id="n589-8177"><circle cx="589" cy="8177"/></g>
<g id="n331-8481"><circle cx="331" cy="8481"/></g><g id="n331-8542"><circle cx="331" cy="8542"/></g><g id="n331-8603"><circle cx="331" cy="8603"/></g><g id="n331-8664"><circle cx="331" cy="8664"/></g><g id="n331-8724"><circle cx="331" cy="8724"/></g><g id="n331-8785"><circle cx="331" cy="8785"/></g><g id="n331-8846"><circle cx="331" cy="8846"/></g><g id="n331-8907"><circle cx="331" cy="8907"/></g>
<g id="n425-8481"><circle cx="425" cy="8481"/></g><g id="n425-8542"><circle cx="425" cy="8542"/></g>
<g id="n298-8968"><circle cx="298" cy="8968"/></g><g id="n298-9028"><circle cx="298" cy="9028"/></g>
<g id="n391-8968"><circle cx="391" cy="8968"/></g><g id="n391-9028"><circle cx="391" cy="9028"/></g><g id="n391-9089"><circle cx="391" cy="9089"/></g><g id="n391-9150"><circle cx="391" cy="9150"/></g>
<g id="n361-9211"><circle cx="361" cy="9211"/></g><g id="n361-9272"><circle cx="361" cy="9272"/></g><g id="n361-9332"><circle cx="361" cy="9332"/></g><g id="n361-9393"><circle cx="361" cy="9393"/></g><g id="n361-9454"><circle cx="361" cy="9454"/></g><g id="n361-9515"><circle cx="361" cy="9515"/></g><g id="n361-9576"><circle cx="361" cy="9576"/></g><g id="n361-9636"><circle cx="361" cy="9636"/></g>
<g id="n455-9211"><circle cx="455" cy="9211"/></g><g id="n455-9272"><circle cx="455" cy="9272"/></g><g id="n455-9332"><circle cx="455" cy="9332"/></g><g id="n455-9393"><circle cx="455" cy="9393"/></g>
<g id="n268-9332"><circle cx="268" cy="9332"/></g><g id="n268-9393"><circle cx="268" cy="9393"/></g><g id="n268-9454"><circle cx="268" cy="9454"/></g><g id="n268-9515"><circle cx="268" cy="9515"/></g><g id="n268-9576"><circle cx="268" cy="9576"/></g><g id="n268-9636"><circle cx="268" cy="9636"/></g><g id="n268-9697"><circle cx="268" cy="9697"/></g><g id="n268-9758"><circle cx="268" cy="9758"/></g>
<g id="n121-9819"><circle cx="121" cy="9819"/></g><g id="n121-9880"><circle cx="121" cy="9880"/></g><g id="n268-9819"><circle cx="268" cy="9819"/></g><g id="n268-9880"><circle cx="268" cy="9880"/></g><g id="n361-9819"><circle cx="361" cy="9819"/></g><g id="n361-9880"><circle cx="361" cy="9880"/></g>
<g id="n238-9940"><circle cx="238" cy="9940"/></g><g id="n238-10001"><circle cx="238" cy="10001"/></g><g id="n331-9940"><circle cx="331" cy="9940"/></g><g id="n331-10001"><circle cx="331" cy="10001"/></g><g id="n425-9940"><circle cx="425" cy="9940"/></g><g id="n425-10001"><circle cx="425" cy="10001"/></g>
<g id="n171-10062"><circle cx="171" cy="10062"/></g><g id="n171-10123"><circle cx="171" cy="10123"/></g><g id="n171-10184"><circle cx="171" cy="10184"/></g><g id="n171-10244"><circle cx="171" cy="10244"/></g><g id="n171-10305"><circle cx="171" cy="10305"/></g><g id="n171-10366"><circle cx="171" cy="10366"/></g><g id="n171-10427"><circle cx="171" cy="10427"/></g><g id="n171-10488"><circle cx="171" cy="10488"/></g><g id="n171-10548"><circle cx="171" cy="10548"/></g><g id="n171-10609"><circle cx="171" cy="10609"/></g>
<g id="n264-10062"><circle cx="264" cy="10062"/></g><g id="n264-10123"><circle cx="264" cy="10123"/></g><g id="n264-10184"><circle cx="264" cy="10184"/></g><g id="n264-10244"><circle cx="264" cy="10244"/></g>
<g id="n358-10062"><circle cx="358" cy="10062"/></g><g id="n358-10123"><circle cx="358" cy="10123"/></g>
<g id="n29-9940"><circle cx="29" cy="9940"/></g><g id="n29-10001"><circle cx="29" cy="10001"/></g>
<g id="n121-9940"><circle cx="121" cy="9940"/></g><g id="n121-10001"><circle cx="121" cy="10001"/></g><g id="n77-10062"><circle cx="77" cy="10062"/></g><g id="n77-10123"><circle cx="77" cy="10123"/></g><g id="n77-10184"><circle cx="77" cy="10184"/></g><g id="n77-10244"><circle cx="77" cy="10244"/></g><g id="n77-10305"><circle cx="77" cy="10305"/></g><g id="n77-10366"><circle cx="77" cy="10366"/></g>
<g id="n870-7873"><circle cx="870" cy="7873"/></g><g id="n870-7934"><circle cx="870" cy="7934"/></g><g id="n870-7995"><circle cx="870" cy="7995"/></g><g id="n870-8056"><circle cx="870" cy="8056"/></g><g id="n870-8116"><circle cx="870" cy="8116"/></g><g id="n870-8177"><circle cx="870" cy="8177"/></g>
<g id="n776-7995"><circle cx="776" cy="7995"/></g><g id="n776-8056"><circle cx="776" cy="8056"/></g>
<g id="n776-8116"><circle cx="776" cy="8116"/></g><g id="n776-8177"><circle cx="776" cy="8177"/></g><g id="n776-8238"><circle cx="776" cy="8238"/></g><g id="n776-8299"><circle cx="776" cy="8299"/></g><g id="n776-8360"><circle cx="776" cy="8360"/></g><g id="n776-8420"><circle cx="776" cy="8420"/></g><g id="n776-8481"><circle cx="776" cy="8481"/></g><g id="n776-8542"><circle cx="776" cy="8542"/></g>
<g id="n963-7873"><circle cx="963" cy="7873"/></g><g id="n963-7934"><circle cx="963" cy="7934"/></g><g id="n963-7995"><circle cx="963" cy="7995"/></g><g id="n963-8056"><circle cx="963" cy="8056"/></g><g id="n963-8116"><circle cx="963" cy="8116"/></g><g id="n963-8177"><circle cx="963" cy="8177"/></g><g id="n963-8238"><circle cx="963" cy="8238"/></g><g id="n963-8299"><circle cx="963" cy="8299"/></g>
<g id="n1057-7873"><circle cx="1057" cy="7873"/></g><g id="n1057-7934"><circle cx="1057" cy="7934"/></g><g id="n1057-7995"><circle cx="1057" cy="7995"/></g><g id="n1057-8056"><circle cx="1057" cy="8056"/></g>
<g id="n1150-7873"><circle cx="1150" cy="7873"/></g><g id="n1150-7934"><circle cx="1150" cy="7934"/></g><g id="n1150-7995"><circle cx="1150" cy="7995"/></g><g id="n1150-8056"><circle cx="1150" cy="8056"/></g>
<g id="n1057-8116"><circle cx="1057" cy="8116"/></g><g id="n1057-8177"><circle cx="1057" cy="8177"/></g><g id="n1057-8238"><circle cx="1057" cy="8238"/></g><g id="n1057-8299"><circle cx="1057" cy="8299"/></g><g id="n1057-8360"><circle cx="1057" cy="8360"/></g><g id="n1057-8420"><circle cx="1057" cy="8420"/></g><g id="n1057-8481"><circle cx="1057" cy="8481"/></g><g id="n1057-8542"><circle cx="1057" cy="8542"/></g><g id="n1057-8603"><circle cx="1057" cy="8603"/></g><g id="n1057-8664"><circle cx="1057" cy="8664"/></g><g id="n1057-8724"><circle cx="1057" cy="8724"/></g><g id="n1057-8785"><circle cx="1057" cy="8785"/></g><g id="n1057-8846"><circle cx="1057" cy="8846"/></g><g id="n1057-8907"><circle cx="1057" cy="8907"/></g><g id="n1057-8968"><circle cx="1057" cy="8968"/></g><g id="n1057-9028"><circle cx="1057" cy="9028"/></g>
<g id="n1150-8238"><circle cx="1150" cy="8238"/></g><g id="n1150-8299"><circle cx="1150" cy="8299"/></g><g id="n1150-8360"><circle cx="1150" cy="8360"/></g><g id="n1150-8420"><circle cx="1150" cy="8420"/></g><g id="n1150-8481"><circle cx="1150" cy="8481"/></g><g id="n1150-8542"><circle cx="1150" cy="8542"/></g><g id="n1150-8603"><circle cx="1150" cy="8603"/></g><g id="n1150-8664"><circle cx="1150" cy="8664"/></g><g id="n1150-8724"><circle cx="1150" cy="8724"/></g><g id="n1150-8785"><circle cx="1150" cy="8785"/></g>
<g id="n1243-8360"><circle cx="1243" cy="8360"/></g><g id="n1243-8420"><circle cx="1243" cy="8420"/></g><g id="n1243-8481"><circle cx="1243" cy="8481"/></g><g id="n1243-8542"><circle cx="1243" cy="8542"/></g><g id="n1243-8603"><circle cx="1243" cy="8603"/></g><g id="n1243-8664"><circle cx="1243" cy="8664"/></g>
<g id="n1337-8603"><circle cx="1337" cy="8603"/></g><g id="n1337-8664"><circle cx="1337" cy="8664"/></g><g id="n1337-8724"><circle cx="1337" cy="8724"/></g><g id="n1337-8785"><circle cx="1337" cy="8785"/></g><g id="n1337-8846"><circle cx="1337" cy="8846"/></g><g id="n1337-8907"><circle cx="1337" cy="8907"/></g>
<g id="n963-8481"><circle cx="963" cy="8481"/></g><g id="n963-8542"><circle cx="963" cy="8542"/></g><g id="n963-8603"><circle cx="963" cy="8603"/></g><g id="n963-8664"><circle cx="963" cy="8664"/></g>
<g id="n1330-8968"><circle cx="1330" cy="8968"/></g><g id="n1330-9028"><circle cx="1330" cy="9028"/></g><g id="n1330-9089"><circle cx="1330" cy="9089"/></g><g id="n1330-9150"><circle cx="1330" cy="9150"/></g><g id="n1330-9211"><circle cx="1330" cy="9211"/></g><g id="n1330-9272"><circle cx="1330" cy="9272"/></g>
<g id="n1423-8968"><circle cx="1423" cy="8968"/></g><g id="n1423-9028"><circle cx="1423" cy="9028"/></g>
<g id="n1318-9332"><circle cx="1318" cy="9332"/></g><g id="n1318-9393"><circle cx="1318" cy="9393"/></g>
<g id="n1411-9332"><circle cx="1411" cy="9332"/></g><g id="n1411-9393"><circle cx="1411" cy="9393"/></g>
<g id="n1363-9454"><circle cx="1363" cy="9454"/></g><g id="n1363-9515"><circle cx="1363" cy="9515"/></g>
<g id="n1457-9454"><circle cx="1457" cy="9454"/></g><g id="n1457-9515"><circle cx="1457" cy="9515"/></g>
<g id="n1401-9576"><circle cx="1401" cy="9576"/></g><g id="n1401-9636"><circle cx="1401" cy="9636"/></g><g id="n1401-9697"><circle cx="1401" cy="9697"/></g><g id="n1401-9758"><circle cx="1401" cy="9758"/></g>
<g id="n1494-9576"><circle cx="1494" cy="9576"/></g><g id="n1494-9636"><circle cx="1494" cy="9636"/></g>
<g id="n1494-9697"><circle cx="1494" cy="9697"/></g><g id="n1494-9758"><circle cx="1494" cy="9758"/></g>
<g id="n1446-9819"><circle cx="1446" cy="9819"/></g><g id="n1446-9880"><circle cx="1446" cy="9880"/></g><g id="n1446-9940"><circle cx="1446" cy="9940"/></g><g id="n1446-10001"><circle cx="1446" cy="10001"/></g><g id="n1446-10062"><circle cx="1446" cy="10062"/></g><g id="n1446-10123"><circle cx="1446" cy="10123"/></g><g id="n1446-10184"><circle cx="1446" cy="10184"/></g><g id="n1446-10244"><circle cx="1446" cy="10244"/></g><g id="n1446-10305"><circle cx="1446" cy="10305"/></g><g id="n1446-10366"><circle cx="1446" cy="10366"/></g><g id="n1446-10427"><circle cx="1446" cy="10427"/></g><g id="n1446-10488"><circle cx="1446" cy="10488"/></g><g id="n1446-10548"><circle cx="1446" cy="10548"/></g><g id="n1446-10609"><circle cx="1446" cy="10609"/></g><g id="n1446-10670"><circle cx="1446" cy="10670"/></g><g id="n1446-10731"><circle cx="1446" cy="10731"/></g>
<g id="n1539-9819"><circle cx="1539" cy="9819"/></g><g id="n1539-9880"><circle cx="1539" cy="9880"/></g><g id="n1539-9940"><circle cx="1539" cy="9940"/></g><g id="n1539-10001"><circle cx="1539" cy="10001"/></g>
<g id="n967-9089"><circle cx="967" cy="9089"/></g><g id="n933-9150"><circle cx="933" cy="9150"/></g><g id="n933-9211"><circle cx="933" cy="9211"/></g><g id="n933-9272"><circle cx="933" cy="9272"/></g><g id="n933-9332"><circle cx="933" cy="9332"/></g><g id="n933-9393"><circle cx="933" cy="9393"/></g><g id="n933-9454"><circle cx="933" cy="9454"/></g><g id="n933-9515"><circle cx="933" cy="9515"/></g><g id="n933-9576"><circle cx="933" cy="9576"/></g><g id="n933-9636"><circle cx="933" cy="9636"/></g><g id="n933-9697"><circle cx="933" cy="9697"/></g><g id="n933-9758"><circle cx="933" cy="9758"/></g><g id="n933-9819"><circle cx="933" cy="9819"/></g><g id="n933-9880"><circle cx="933" cy="9880"/></g><g id="n933-9940"><circle cx="933" cy="9940"/></g><g id="n933-10001"><circle cx="933" cy="10001"/></g><g id="n933-10062"><circle cx="933" cy="10062"/></g><g id="n933-10123"><circle cx="933" cy="10123"/></g><g id="n933-10184"><circle cx="933" cy="10184"/></g><g id="n933-10244"><circle cx="933" cy="10244"/></g><g id="n933-10305"><circle cx="933" cy="10305"/></g><g id="n933-10366"><circle cx="933" cy="10366"/></g><g id="n933-10427"><circle cx="933" cy="10427"/></g><g id="n933-10488"><circle cx="933" cy="10488"/></g><g id="n933-10548"><circle cx="933" cy="10548"/></g><g id="n933-10609"><circle cx="933" cy="10609"/></g><g id="n933-10670"><circle cx="933" cy="10670"/></g><g id="n933-10731"><circle cx="933" cy="10731"/></g>
<g id="n1101-9089"><circle cx="1101" cy="9089"/></g><g id="n1112-9150"><circle cx="1112" cy="9150"/></g>
<g id="n836-9211"><circle cx="836" cy="9211"/></g><g id="n832-9272"><circle cx="832" cy="9272"/></g><g id="n832-9332"><circle cx="832" cy="9332"/></g><g id="n832-9393"><circle cx="832" cy="9393"/></g>
<g id="n727-9332"><circle cx="727" cy="9332"/></g><g id="n705-9393"><circle cx="705" cy="9393"/></g><g id="n705-9454"><circle cx="705" cy="9454"/></g><g id="n701-9515"><circle cx="701" cy="9515"/></g><g id="n701-9576"><circle cx="701" cy="9576"/></g><g id="n701-9636"><circle cx="701" cy="9636"/></g>
<g id="n563-9697"><circle cx="563" cy="9697"/></g><g id="n563-9758"><circle cx="563" cy="9758"/></g><g id="n563-9819"><circle cx="563" cy="9819"/></g><g id="n563-9880"><circle cx="563" cy="9880"/></g>
<g id="n656-9697"><circle cx="656" cy="9697"/></g><g id="n656-9758"><circle cx="656" cy="9758"/></g><g id="n656-9819"><circle cx="656" cy="9819"/></g><g id="n656-9880"><circle cx="656" cy="9880"/></g><g id="n656-9940"><circle cx="656" cy="9940"/></g><g id="n656-10001"><circle cx="656" cy="10001"/></g><g id="n656-10062"><circle cx="656" cy="10062"/></g><g id="n656-10123"><circle cx="656" cy="10123"/></g><g id="n656-10184"><circle cx="656" cy="10184"/></g><g id="n656-10244"><circle cx="656" cy="10244"/></g><g id="n653-10305"><circle cx="653" cy="10305"/></g><g id="n653-10366"><circle cx="653" cy="10366"/></g><g id="n653-10427"><circle cx="653" cy="10427"/></g><g id="n653-10488"><circle cx="653" cy="10488"/></g>
<g id="n750-9697"><circle cx="750" cy="9697"/></g><g id="n750-9758"><circle cx="750" cy="9758"/></g><g id="n750-9819"><circle cx="750" cy="9819"/></g><g id="n750-9880"><circle cx="750" cy="9880"/></g>
<g id="n563-9940"><circle cx="563" cy="9940"/></g><g id="n563-10001"><circle cx="563" cy="10001"/></g><g id="n563-10062"><circle cx="563" cy="10062"/></g><g id="n563-10123"><circle cx="563" cy="10123"/></g><g id="n563-10184"><circle cx="563" cy="10184"/></g><g id="n563-10244"><circle cx="563" cy="10244"/></g>
<g id="n1027-9332"><circle cx="1027" cy="9332"/></g><g id="n1027-9393"><circle cx="1027" cy="9393"/></g><g id="n1027-9454"><circle cx="1027" cy="9454"/></g><g id="n1027-9515"><circle cx="1027" cy="9515"/></g><g id="n1027-9576"><circle cx="1027" cy="9576"/></g><g id="n1027-9636"><circle cx="1027" cy="9636"/></g>
<g id="n1027-9940"><circle cx="1027" cy="9940"/></g><g id="n1027-10001"><circle cx="1027" cy="10001"/></g><g id="n1027-10062"><circle cx="1027" cy="10062"/></g><g id="n1027-10123"><circle cx="1027" cy="10123"/></g><g id="n1027-10184"><circle cx="1027" cy="10184"/></g><g id="n1027-10244"><circle cx="1027" cy="10244"/></g><g id="n1027-10305"><circle cx="1027" cy="10305"/></g><g id="n1027-10366"><circle cx="1027" cy="10366"/></g><g id="n1027-10427"><circle cx="1027" cy="10427"/></g><g id="n1027-10488"><circle cx="1027" cy="10488"/></g><g id="n1027-10548"><circle cx="1027" cy="10548"/></g><g id="n1027-10609"><circle cx="1027" cy="10609"/></g>
<g id="n1120-10184"><circle cx="1120" cy="10184"/></g><g id="n1120-10244"><circle cx="1120" cy="10244"/></g>
<g id="n1120-10305"><circle cx="1120" cy="10305"/></g><g id="n1120-10366"><circle cx="1120" cy="10366"/></g><g id="n1213-10427"><circle cx="1213" cy="10427"/></g><g id="n1213-10488"><circle cx="1213" cy="10488"/></g>
<g id="n1120-10427"><circle cx="1120" cy="10427"/></g><g id="n1120-10488"><circle cx="1120" cy="10488"/></g>
<g id="n1027-9211"><circle cx="1027" cy="9211"/></g><g id="n1027-9272"><circle cx="1027" cy="9272"/></g>
<g id="n1120-9211"><circle cx="1120" cy="9211"/></g><g id="n1120-9272"><circle cx="1120" cy="9272"/></g><g id="n1120-9332"><circle cx="1120" cy="9332"/></g><g id="n1120-9393"><circle cx="1120" cy="9393"/></g>
<g id="n1213-9211"><circle cx="1213" cy="9211"/></g><g id="n1213-9272"><circle cx="1213" cy="9272"/></g>
<g id="n1213-9332"><circle cx="1213" cy="9332"/></g><g id="n1213-9393"><circle cx="1213" cy="9393"/></g><g id="n1213-9454"><circle cx="1213" cy="9454"/></g><g id="n1213-9515"><circle cx="1213" cy="9515"/></g><g id="n1213-9576"><circle cx="1213" cy="9576"/></g><g id="n1213-9636"><circle cx="1213" cy="9636"/></g><g id="n1213-9697"><circle cx="1213" cy="9697"/></g><g id="n1213-9758"><circle cx="1213" cy="9758"/></g><g id="n1213-9819"><circle cx="1213" cy="9819"/></g><g id="n1213-9880"><circle cx="1213" cy="9880"/></g><g id="n1213-9940"><circle cx="1213" cy="9940"/></g><g id="n1213-10001"><circle cx="1213" cy="10001"/></g><g id="n1213-10062"><circle cx="1213" cy="10062"/></g><g id="n1213-10123"><circle cx="1213" cy="10123"/></g><g id="n1213-10184"><circle cx="1213" cy="10184"/></g><g id="n1213-10244"><circle cx="1213" cy="10244"/></g><g id="n1213-10305"><circle cx="1213" cy="10305"/></g><g id="n1213-10366"><circle cx="1213" cy="10366"/></g>
<g id="n1307-9576"><circle cx="1307" cy="9576"/></g><g id="n1307-9636"><circle cx="1307" cy="9636"/></g><g id="n1307-9697"><circle cx="1307" cy="9697"/></g><g id="n1307-9758"><circle cx="1307" cy="9758"/></g>
<g id="n840-10184"><circle cx="840" cy="10184"/></g><g id="n840-10244"><circle cx="840" cy="10244"/></g><g id="n840-10305"><circle cx="840" cy="10305"/></g><g id="n840-10366"><circle cx="840" cy="10366"/></g><g id="n840-10427"><circle cx="840" cy="10427"/></g><g id="n840-10488"><circle cx="840" cy="10488"/></g><g id="n840-10548"><circle cx="840" cy="10548"/></g><g id="n840-10609"><circle cx="840" cy="10609"/></g>
<g id="n746-10305"><circle cx="746" cy="10305"/></g><g id="n746-10366"><circle cx="746" cy="10366"/></g>
<g id="n746-10548"><circle cx="746" cy="10548"/></g><g id="n746-10609"><circle cx="746" cy="10609"/></g><g id="n746-10670"><circle cx="746" cy="10670"/></g><g id="n746-10731"><circle cx="746" cy="10731"/></g><g id="n746-10792"><circle cx="746" cy="10792"/></g><g id="n746-10852"><circle cx="746" cy="10852"/></g>
<g id="n701-10913"><circle cx="701" cy="10913"/></g><g id="n701-10974"><circle cx="701" cy="10974"/></g><g id="n701-11035"><circle cx="701" cy="11035"/></g><g id="n701-11096"><circle cx="701" cy="11096"/></g>
<g id="n795-10913"><circle cx="795" cy="10913"/></g><g id="n795-10974"><circle cx="795" cy="10974"/></g>
<g id="n656-11156"><circle cx="656" cy="11156"/></g><g id="n656-11217"><circle cx="656" cy="11217"/></g><g id="n656-11278"><circle cx="656" cy="11278"/></g><g id="n656-11339"><circle cx="656" cy="11339"/></g>
<g id="n750-11156"><circle cx="750" cy="11156"/></g><g id="n750-11217"><circle cx="750" cy="11217"/></g><g id="n750-11278"><circle cx="750" cy="11278"/></g><g id="n750-11339"><circle cx="750" cy="11339"/></g><g id="n750-11400"><circle cx="750" cy="11400"/></g><g id="n750-11460"><circle cx="750" cy="11460"/></g>
<g id="n844-11278"><circle cx="844" cy="11278"/></g><g id="n844-11339"><circle cx="844" cy="11339"/></g>
<g id="n1165-10548"><circle cx="1165" cy="10548"/></g><g id="n1165-10609"><circle cx="1165" cy="10609"/></g><g id="n1165-10670"><circle cx="1165" cy="10670"/></g><g id="n1165-10731"><circle cx="1165" cy="10731"/></g><g id="n1165-10792"><circle cx="1165" cy="10792"/></g><g id="n1165-10852"><circle cx="1165" cy="10852"/></g>
<g id="n1259-10548"><circle cx="1259" cy="10548"/></g><g id="n1259-10609"><circle cx="1259" cy="10609"/></g><g id="n1259-10670"><circle cx="1259" cy="10670"/></g><g id="n1259-10731"><circle cx="1259" cy="10731"/></g><g id="n1259-10792"><circle cx="1259" cy="10792"/></g><g id="n1259-10852"><circle cx="1259" cy="10852"/></g>
<g id="n1116-10913"><circle cx="1116" cy="10913"/></g><g id="n1116-10974"><circle cx="1116" cy="10974"/></g>
<g id="n1210-10913"><circle cx="1210" cy="10913"/></g><g id="n1210-10974"><circle cx="1210" cy="10974"/></g><g id="n1210-11035"><circle cx="1210" cy="11035"/></g><g id="n1210-11096"><circle cx="1210" cy="11096"/></g><g id="n1210-11156"><circle cx="1210" cy="11156"/></g><g id="n1210-11217"><circle cx="1210" cy="11217"/></g>
<g id="n1161-11278"><circle cx="1161" cy="11278"/></g><g id="n1161-11339"><circle cx="1161" cy="11339"/></g>
<g id="n1255-11278"><circle cx="1255" cy="11278"/></g><g id="n1255-11339"><circle cx="1255" cy="11339"/></g>
<g id="n1206-11400"><circle cx="1206" cy="11400"/></g><g id="n1206-11460"><circle cx="1206" cy="11460"/></g><g id="n1206-11521"><circle cx="1206" cy="11521"/></g><g id="n1206-11582"><circle cx="1206" cy="11582"/></g><g id="n1206-11643"><circle cx="1206" cy="11643"/></g><g id="n1206-11704"><circle cx="1206" cy="11704"/></g><g id="n1206-11764"><circle cx="1206" cy="11764"/></g><g id="n1206-11825"><circle cx="1206" cy="11825"/></g><g id="n1206-11886"><circle cx="1206" cy="11886"/></g><g id="n1206-11947"><circle cx="1206" cy="11947"/></g>
<g id="n1300-11400"><circle cx="1300" cy="11400"/></g><g id="n1300-11460"><circle cx="1300" cy="11460"/></g><g id="n1300-11521"><circle cx="1300" cy="11521"/></g><g id="n1300-11582"><circle cx="1300" cy="11582"/></g><g id="n1300-11643"><circle cx="1300" cy="11643"/></g><g id="n1300-11704"><circle cx="1300" cy="11704"/></g><g id="n1300-11764"><circle cx="1300" cy="11764"/></g><g id="n1300-11825"><circle cx="1300" cy="11825"/></g><g id="n1300-11886"><circle cx="1300" cy="11886"/></g><g id="n1300-11947"><circle cx="1300" cy="11947"/></g><g id="n1300-12008"><circle cx="1300" cy="12008"/></g><g id="n1300-12068"><circle cx="1300" cy="12068"/></g><g id="n1300-12129"><circle cx="1300" cy="12129"/></g><g id="n1300-12190"><circle cx="1300" cy="12190"/></g><g id="n1300-12251"><circle cx="1300" cy="12251"/></g><g id="n1300-12312"><circle cx="1300" cy="12312"/></g>
<g id="n1113-11521"><circle cx="1113" cy="11521"/></g><g id="n1113-11582"><circle cx="1113" cy="11582"/></g>
<g id="n1255-12372"><circle cx="1255" cy="12372"/></g><g id="n1255-12433"><circle cx="1255" cy="12433"/></g><g id="n1255-12494"><circle cx="1255" cy="12494"/></g><g id="n1255-12555"><circle cx="1255" cy="12555"/></g><g id="n1255-12616"><circle cx="1255" cy="12616"/></g><g id="n1255-12676"><circle cx="1255" cy="12676"/></g>
<g id="n1349-12372"><circle cx="1349" cy="12372"/></g><g id="n1349-12433"><circle cx="1349" cy="12433"/></g>
<g id="n1161-12494"><circle cx="1161" cy="12494"/></g><g id="n1161-12555"><circle cx="1161" cy="12555"/></g><g id="n1161-12616"><circle cx="1161" cy="12616"/></g><g id="n1161-12676"><circle cx="1161" cy="12676"/></g>
<g id="n1349-12494"><circle cx="1349" cy="12494"/></g><g id="n1349-12555"><circle cx="1349" cy="12555"/></g>
<g id="n1349-12616"><circle cx="1349" cy="12616"/></g><g id="n1349-12676"><circle cx="1349" cy="12676"/></g>
<g id="n1233-12737"><circle cx="1233" cy="12737"/></g><g id="n1233-12798"><circle cx="1233" cy="12798"/></g><g id="n1233-12859"><circle cx="1233" cy="12859"/></g><g id="n1233-12920"><circle cx="1233" cy="12920"/></g>
<g id="n1326-12737"><circle cx="1326" cy="12737"/></g><g id="n1326-12798"><circle cx="1326" cy="12798"/></g>
<g id="n1068-12616"><circle cx="1068" cy="12616"/></g><g id="n1068-12676"><circle cx="1068" cy="12676"/></g>
<g id="n1001-12737"><circle cx="1001" cy="12737"/></g><g id="n1001-12798"><circle cx="1001" cy="12798"/></g><g id="n1001-12859"><circle cx="1001" cy="12859"/></g><g id="n1001-12920"><circle cx="1001" cy="12920"/></g><g id="n1001-12980"><circle cx="1001" cy="12980"/></g><g id="n1001-13041"><circle cx="1001" cy="13041"/></g>
<g id="n1094-12737"><circle cx="1094" cy="12737"/></g><g id="n1094-12798"><circle cx="1094" cy="12798"/></g>
<g id="n956-13102"><circle cx="956" cy="13102"/></g><g id="n956-13163"><circle cx="956" cy="13163"/></g><g id="n956-13224"><circle cx="956" cy="13224"/></g><g id="n956-13284"><circle cx="956" cy="13284"/></g><g id="n956-13345"><circle cx="956" cy="13345"/></g><g id="n956-13406"><circle cx="956" cy="13406"/></g><g id="n956-13467"><circle cx="956" cy="13467"/></g><g id="n956-13528"><circle cx="956" cy="13528"/></g><g id="n956-13588"><circle cx="956" cy="13588"/></g><g id="n956-13649"><circle cx="956" cy="13649"/></g>
<g id="n1049-13102"><circle cx="1049" cy="13102"/></g><g id="n1049-13163"><circle cx="1049" cy="13163"/></g><g id="n1049-13224"><circle cx="1049" cy="13224"/></g><g id="n1049-13284"><circle cx="1049" cy="13284"/></g><g id="n1049-13345"><circle cx="1049" cy="13345"/></g><g id="n1049-13406"><circle cx="1049" cy="13406"/></g><g id="n1049-13467"><circle cx="1049" cy="13467"/></g><g id="n1049-13528"><circle cx="1049" cy="13528"/></g>
<g id="n1143-13345"><circle cx="1143" cy="13345"/></g><g id="n1143-13406"><circle cx="1143" cy="13406"/></g><g id="n1143-13467"><circle cx="1143" cy="13467"/></g><g id="n1143-13528"><circle cx="1143" cy="13528"/></g><g id="n1143-13588"><circle cx="1143" cy="13588"/></g><g id="n1143-13649"><circle cx="1143" cy="13649"/></g>
<g id="n1094-13710"><circle cx="1094" cy="13710"/></g><g id="n1094-13771"><circle cx="1094" cy="13771"/></g>
<g id="n1187-13710"><circle cx="1187" cy="13710"/></g><g id="n1187-13771"><circle cx="1187" cy="13771"/></g>
<g id="n1139-13832"><circle cx="1139" cy="13832"/></g><g id="n1139-13892"><circle cx="1139" cy="13892"/></g><g id="n1139-13953"><circle cx="1139" cy="13953"/></g><g id="n1139-14014"><circle cx="1139" cy="14014"/></g><g id="n1139-14075"><circle cx="1139" cy="14075"/></g><g id="n1139-14136"><circle cx="1139" cy="14136"/></g>
<g id="n1233-13832"><circle cx="1233" cy="13832"/></g><g id="n1233-13892"><circle cx="1233" cy="13892"/></g><g id="n1233-13953"><circle cx="1233" cy="13953"/></g><g id="n1236-14014"><circle cx="1236" cy="14014"/></g><g id="n1240-14075"><circle cx="1240" cy="14075"/></g><g id="n1243-14136"><circle cx="1243" cy="14136"/></g>
<g id="n1001-14075"><circle cx="1001" cy="14075"/></g><g id="n986-14136"><circle cx="986" cy="14136"/></g><g id="n963-14196"><circle cx="963" cy="14196"/></g><g id="n963-14257"><circle cx="963" cy="14257"/></g><g id="n963-14318"><circle cx="963" cy="14318"/></g><g id="n963-14379"><circle cx="963" cy="14379"/></g><g id="n963-14440"><circle cx="963" cy="14440"/></g><g id="n963-14500"><circle cx="963" cy="14500"/></g><g id="n963-14561"><circle cx="963" cy="14561"/></g><g id="n963-14622"><circle cx="963" cy="14622"/></g><g id="n963-14683"><circle cx="963" cy="14683"/></g><g id="n963-14744"><circle cx="963" cy="14744"/></g>
<g id="n1057-14196"><circle cx="1057" cy="14196"/></g><g id="n1057-14257"><circle cx="1057" cy="14257"/></g>
<g id="n1150-14196"><circle cx="1150" cy="14196"/></g><g id="n1150-14257"><circle cx="1150" cy="14257"/></g><g id="n1150-14318"><circle cx="1150" cy="14318"/></g><g id="n1150-14379"><circle cx="1150" cy="14379"/></g>
<g id="n1243-14196"><circle cx="1243" cy="14196"/></g><g id="n1243-14257"><circle cx="1243" cy="14257"/></g>
<g id="n1337-14196"><circle cx="1337" cy="14196"/></g><g id="n1337-14257"><circle cx="1337" cy="14257"/></g><g id="n1337-14318"><circle cx="1337" cy="14318"/></g><g id="n1337-14379"><circle cx="1337" cy="14379"/></g><g id="n1337-14440"><circle cx="1337" cy="14440"/></g><g id="n1337-14500"><circle cx="1337" cy="14500"/></g><g id="n1337-14561"><circle cx="1337" cy="14561"/></g><g id="n1337-14622"><circle cx="1337" cy="14622"/></g>
<g id="n918-14804"><circle cx="918" cy="14804"/></g><g id="n918-14865"><circle cx="918" cy="14865"/></g><g id="n918-14926"><circle cx="918" cy="14926"/></g><g id="n918-14987"><circle cx="918" cy="14987"/></g><g id="n918-15048"><circle cx="918" cy="15048"/></g><g id="n918-15108"><circle cx="918" cy="15108"/></g><g id="n918-15169"><circle cx="918" cy="15169"/></g><g id="n918-15230"><circle cx="918" cy="15230"/></g><g id="n918-15291"><circle cx="918" cy="15291"/></g><g id="n918-15352"><circle cx="918" cy="15352"/></g>
<g id="n1012-14804"><circle cx="1012" cy="14804"/></g><g id="n1012-14865"><circle cx="1012" cy="14865"/></g><g id="n1012-14926"><circle cx="1012" cy="14926"/></g><g id="n1012-14987"><circle cx="1012" cy="14987"/></g><g id="n1012-15048"><circle cx="1012" cy="15048"/></g><g id="n1012-15108"><circle cx="1012" cy="15108"/></g><g id="n1012-15169"><circle cx="1012" cy="15169"/></g><g id="n1012-15230"><circle cx="1012" cy="15230"/></g><g id="n1012-15291"><circle cx="1012" cy="15291"/></g><g id="n1012-15352"><circle cx="1012" cy="15352"/></g>
<g id="n825-14926"><circle cx="825" cy="14926"/></g><g id="n825-14987"><circle cx="825" cy="14987"/></g>
<g id="n1105-14926"><circle cx="1105" cy="14926"/></g><g id="n1105-14987"><circle cx="1105" cy="14987"/></g>
<g id="n1105-15048"><circle cx="1105" cy="15048"/></g><g id="n1105-15108"><circle cx="1105" cy="15108"/></g>
<g id="n776-2644"><circle cx="776" cy="2644"/></g><g id="n776-2705"><circle cx="776" cy="2705"/></g><g id="n776-2766"><circle cx="776" cy="2766"/></g><g id="n776-2827"><circle cx="776" cy="2827"/></g>
<g id="n963-2644"><circle cx="963" cy="2644"/></g><g id="n963-2705"><circle cx="963" cy="2705"/></g>
<g id="n870-2644"><circle cx="870" cy="2644"/></g><g id="n870-2705"><circle cx="870" cy="2705"/></g><g id="n870-2766"><circle cx="870" cy="2766"/></g><g id="n870-2827"><circle cx="870" cy="2827"/></g><g id="n870-2888"><circle cx="870" cy="2888"/></g><g id="n870-2948"><circle cx="870" cy="2948"/></g><g id="n870-3009"><circle cx="870" cy="3009"/></g><g id="n870-3070"><circle cx="870" cy="3070"/></g>
<g id="n963-2888"><circle cx="963" cy="2888"/></g><g id="n963-2948"><circle cx="963" cy="2948"/></g><g id="n963-3009"><circle cx="963" cy="3009"/></g><g id="n963-3070"><circle cx="963" cy="3070"/></g>
<g id="n1101-2888"><circle cx="1101" cy="2888"/></g><g id="n1124-2948"><circle cx="1124" cy="2948"/></g>
<g id="n1057-3009"><circle cx="1057" cy="3009"/></g><g id="n1057-3070"><circle cx="1057" cy="3070"/></g>
<g id="n1150-3009"><circle cx="1150" cy="3009"/></g><g id="n1150-3070"><circle cx="1150" cy="3070"/></g><g id="n1150-3131"><circle cx="1150" cy="3131"/></g><g id="n1150-3192"><circle cx="1150" cy="3192"/></g><g id="n1150-3252"><circle cx="1150" cy="3252"/></g><g id="n1150-3313"><circle cx="1150" cy="3313"/></g><g id="n1150-3374"><circle cx="1150" cy="3374"/></g><g id="n1150-3435"><circle cx="1150" cy="3435"/></g><g id="n1150-3496"><circle cx="1150" cy="3496"/></g><g id="n1150-3556"><circle cx="1150" cy="3556"/></g><g id="n1150-3617"><circle cx="1150" cy="3617"/></g><g id="n1150-3678"><circle cx="1150" cy="3678"/></g>
<g id="n1243-3009"><circle cx="1243" cy="3009"/></g><g id="n1243-3070"><circle cx="1243" cy="3070"/></g><g id="n1243-3131"><circle cx="1243" cy="3131"/></g><g id="n1243-3192"><circle cx="1243" cy="3192"/></g>
</g>
</g>
</svg>
